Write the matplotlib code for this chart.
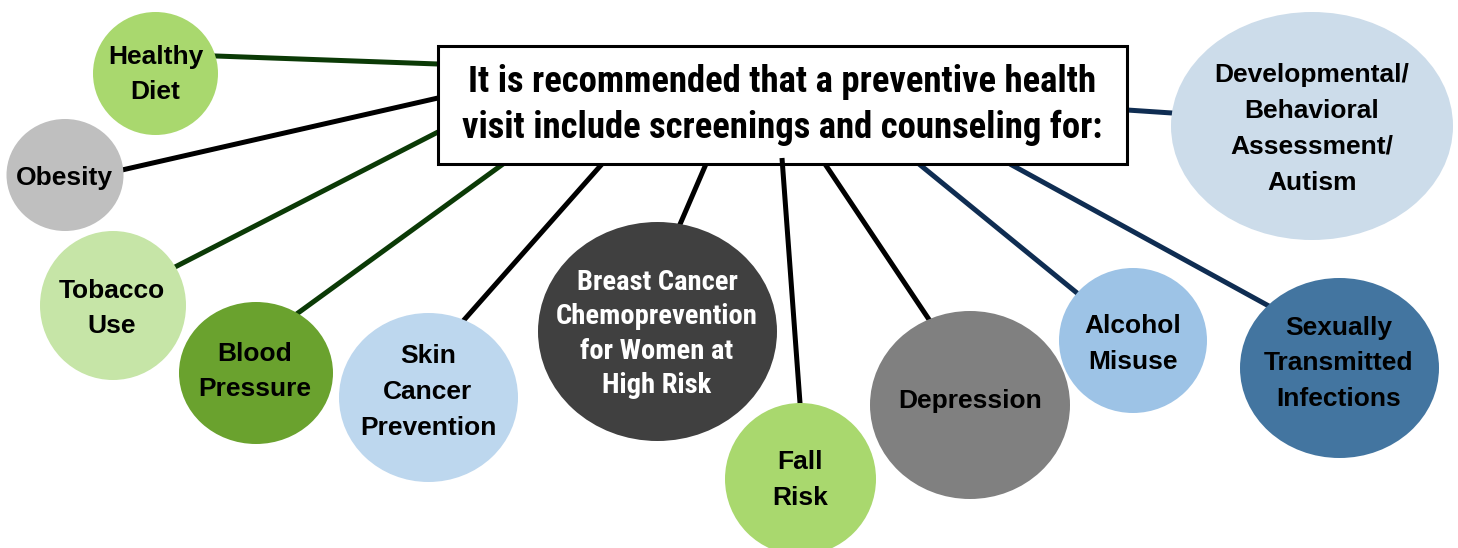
import matplotlib
matplotlib.use("Agg")
import matplotlib.pyplot as plt
import numpy as np
from matplotlib.patches import Ellipse, Rectangle

# ---- content ----
title_text = "It is recommended that a preventive health\nvisit include screenings and counseling for:"
labels = [
    "Healthy\nDiet",
    "Obesity",
    "Tobacco\nUse",
    "Blood\nPressure",
    "Skin\nCancer\nPrevention",
    "Breast Cancer\nChemoprevention\nfor Women at\nHigh Risk",
    "Fall\nRisk",
    "Depression",
    "Alcohol\nMisuse",
    "Sexually\nTransmitted\nInfections",
    "Developmental/\nBehavioral\nAssessment/\nAutism",
]
fill_colors = ["#a9d86e", "#bfbfbf", "#c6e5a7", "#6aa22e", "#bdd7ee", "#404040",
               "#a9d86e", "#808080", "#9dc3e6", "#4375a0", "#ccdcea"]
text_colors = ["black"] * 5 + ["white"] + ["black"] * 5
line_colors = ["#0b3a06", "black", "#0b3a06", "#0b3a06", "black", "black",
               "black", "black", "#0f2d52", "#0f2d52", "#0f2d52"]
narrow_text = [False] * 5 + [True] + [False] * 5

# ---- layout (pixel coordinates, y downwards) ----
centers = [(155.5, 73.5), (65, 175), (113, 305.5), (256, 373), (428.5, 397.5),
           (657.5, 331.5), (800.5, 479), (970, 405), (1133, 340.5),
           (1339.5, 368), (1312, 126)]
sizes = [(125, 123), (117, 112), (146, 149), (154, 142), (179, 169), (239, 219),
         (151, 152), (200, 188), (148, 145), (199, 180), (282, 228)]
text_centers = [(155.5, 74.5), (64, 178), (112, 308.5), (255, 371.5), (428, 392),
                (657, 334), (800, 480), (970, 401), (1133, 344),
                (1339, 363.5), (1312, 129)]
line_starts = [(216, 56), (122, 170), (175, 267), (298, 313), (464, 320),
               (681, 222), (800, 403), (928, 318), (1077, 293), (1267, 305),
               (1172, 113)]
line_ends = [(438, 64), (438, 98), (438, 132), (503, 164), (602, 164),
             (706, 164), (782, 158), (825, 164), (919, 164), (1010, 164),
             (1127, 110)]
box = (438, 46, 689, 118)  # x, y, w, h
W, H = 1458, 548

fig = plt.figure(figsize=(W / 100, H / 100), dpi=100)
ax = fig.add_axes([0, 0, 1, 1])
ax.set_xlim(0, W)
ax.set_ylim(H, 0)
ax.axis("off")

for i, lab in enumerate(labels):
    s = np.array(line_starts[i], float)
    e_ = np.array(line_ends[i], float)
    d = (s - e_) / np.linalg.norm(s - e_)
    s2 = s + 8 * d  # tuck under the circle
    z = 4 if i == 6 else 1
    ax.plot([s2[0], e_[0]], [s2[1], e_[1]], color=line_colors[i], lw=3.6,
            zorder=z, solid_capstyle="butt")
    ax.add_patch(Ellipse(centers[i], sizes[i][0], sizes[i][1],
                         facecolor=fill_colors[i], edgecolor="none", zorder=5))
    if narrow_text[i]:
        fam, fs, ls = ["Roboto Condensed", "DejaVu Sans"], 20.5, 1.36
    else:
        fam, fs, ls = ["Liberation Sans", "DejaVu Sans"], 19, 1.62
    ax.text(text_centers[i][0], text_centers[i][1], lab, ha="center",
            va="center", fontsize=fs, fontweight="bold", family=fam,
            color=text_colors[i], linespacing=ls, zorder=6)

ax.add_patch(Rectangle((box[0], box[1]), box[2], box[3], facecolor="white",
                       edgecolor="black", lw=2.2, zorder=3))
ax.text(box[0] + box[2] / 2, 105, title_text, ha="center",
        va="center", fontsize=26.5, fontweight="bold",
        family=["Roboto Condensed", "DejaVu Sans"],
        linespacing=1.37, zorder=3.5)

fig.savefig("out.png", dpi=100)
